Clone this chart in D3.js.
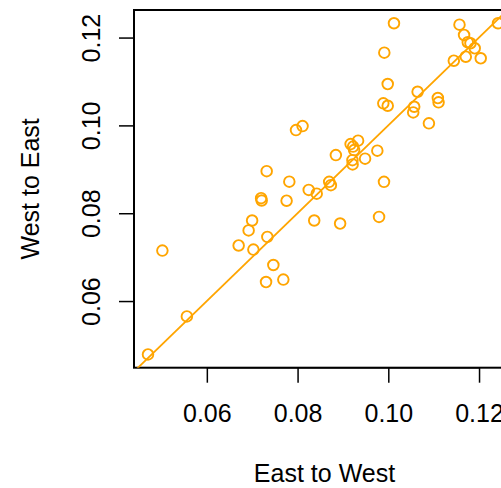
<!DOCTYPE html>
<html>
<head>
<meta charset="utf-8">
<script src="https://cdn.jsdelivr.net/npm/d3@7"></script>
<style>
html,body{margin:0;padding:0;background:#fff;overflow:hidden;}
text{font-family:"Liberation Sans",Arial,Helvetica,sans-serif;}
</style>
</head>
<body>
<svg id="chart" width="501" height="488"></svg>
<script>
// East to West (x) and West to East (y) values
const eastToWest = [0.04703,0.05020,0.05560,0.06701,0.06921,0.06998,0.07026,0.07196,0.07209,0.07319,
  0.07334,0.07466,0.07305,0.07686,0.07758,0.07818,0.07965,0.08110,0.08246,0.08367,
  0.08422,0.08697,0.08734,0.08844,0.08938,0.09169,0.09334,0.09224,0.09246,0.09209,
  0.09213,0.09488,0.09758,0.09796,0.09905,0.09912,0.09890,0.09987,0.09987,0.10125,
  0.10549,0.10571,0.10646,0.10895,0.11092,0.11108,0.11444,0.11569,0.11670,0.11708,
  0.11752,0.11811,0.11905,0.12037,0.12418];
const westToEast = [0.04784,0.07149,0.05651,0.07266,0.07608,0.07834,0.07172,0.08342,0.08290,0.08958,
  0.07460,0.06821,0.06433,0.06488,0.08285,0.08718,0.09893,0.09984,0.08531,0.07834,
  0.08445,0.08714,0.08639,0.09323,0.07765,0.09574,0.09653,0.09517,0.09437,0.09209,
  0.09111,0.09243,0.09425,0.07916,0.08714,0.11656,0.10502,0.10447,0.10942,0.12326,
  0.10296,0.10424,0.10766,0.10046,0.10623,0.10525,0.11473,0.12294,0.12059,0.11564,
  0.11893,0.11870,0.11756,0.11528,0.12326];
const xTicks = [0.06,0.08,0.10,0.12];
const yTicks = [0.06,0.08,0.10,0.12];
const xTickLabels = ["0.06","0.08","0.10","0.12"];
const yTickLabels = ["0.06","0.08","0.10","0.12"];
const xLabel = "East to West";
const yLabel = "West to East";
const refLine = [0.04, 0.13]; // y = x reference line

const svg = d3.select("#chart");
const L = 134, R = 512, T = 10, B = 367.7;
const orange = "#FFA500";
const FS = 25;

// R-style 4% padding of the data range
function padded(vals){
  const [a,b] = d3.extent(vals); const p = (b-a)*0.04; return [a-p, b+p];
}
const x = d3.scaleLinear().domain(padded(eastToWest)).range([L, R]);
const y = d3.scaleLinear().domain(padded(westToEast)).range([B, T]);

svg.append("clipPath").attr("id","clip")
  .append("rect").attr("x",L).attr("y",T).attr("width",R-L).attr("height",B-T);

// axes
const xAxis = d3.axisBottom(x).tickValues(xTicks).tickSize(15).tickPadding(8)
  .tickFormat((d,i)=>xTickLabels[i]);
const gx = svg.append("g").attr("transform",`translate(0,${B})`).call(xAxis);
gx.select(".domain").attr("d",`M${x(xTicks[0])},0H${x(xTicks[xTicks.length-1])}`)
  .attr("stroke","#000").attr("stroke-width",1.5);
gx.selectAll(".tick line").attr("stroke","#000").attr("stroke-width",1.5);
gx.selectAll(".tick text").attr("font-size",FS).attr("fill","#000")
  .attr("font-family","Liberation Sans, Arial, sans-serif").attr("dy",null).attr("y",54.5);

const yAxis = d3.axisLeft(y).tickValues(yTicks).tickSize(15)
  .tickFormat((d,i)=>yTickLabels[i]);
const gy = svg.append("g").attr("transform",`translate(${L},0)`).call(yAxis);
gy.select(".domain").attr("d",`M0,${y(yTicks[0])}V${y(yTicks[yTicks.length-1])}`)
  .attr("stroke","#000").attr("stroke-width",1.5);
gy.selectAll(".tick line").attr("stroke","#000").attr("stroke-width",1.5);
gy.selectAll(".tick text").attr("font-size",FS).attr("fill","#000")
  .attr("font-family","Liberation Sans, Arial, sans-serif")
  .attr("x",null).attr("dy",null).attr("text-anchor","middle")
  .attr("transform","translate(-34,0) rotate(-90)");

// box
svg.append("rect").attr("x",L).attr("y",T).attr("width",R-L).attr("height",B-T)
  .attr("fill","none").attr("stroke","#000").attr("stroke-width",2);

// reference line
svg.append("line").attr("clip-path","url(#clip)")
  .attr("x1",x(refLine[0])).attr("y1",y(refLine[0]))
  .attr("x2",x(refLine[1])).attr("y2",y(refLine[1]))
  .attr("stroke",orange).attr("stroke-width",1.8);

// points
svg.append("g").selectAll("circle").data(eastToWest.map((v,i)=>[v,westToEast[i]]))
  .join("circle")
  .attr("cx",d=>x(d[0])).attr("cy",d=>y(d[1])).attr("r",5.3)
  .attr("fill","none").attr("stroke",orange).attr("stroke-width",1.9);

// axis labels
svg.append("text").attr("x",(L+R)/2 + 1.5).attr("y",482).attr("text-anchor","middle")
  .attr("font-size",FS).attr("fill","#000").text(xLabel);
svg.append("text").attr("transform",`translate(38.5,${(T+B)/2}) rotate(-90)`)
  .attr("text-anchor","middle").attr("font-size",FS).attr("fill","#000").text(yLabel);
</script>
</body>
</html>
